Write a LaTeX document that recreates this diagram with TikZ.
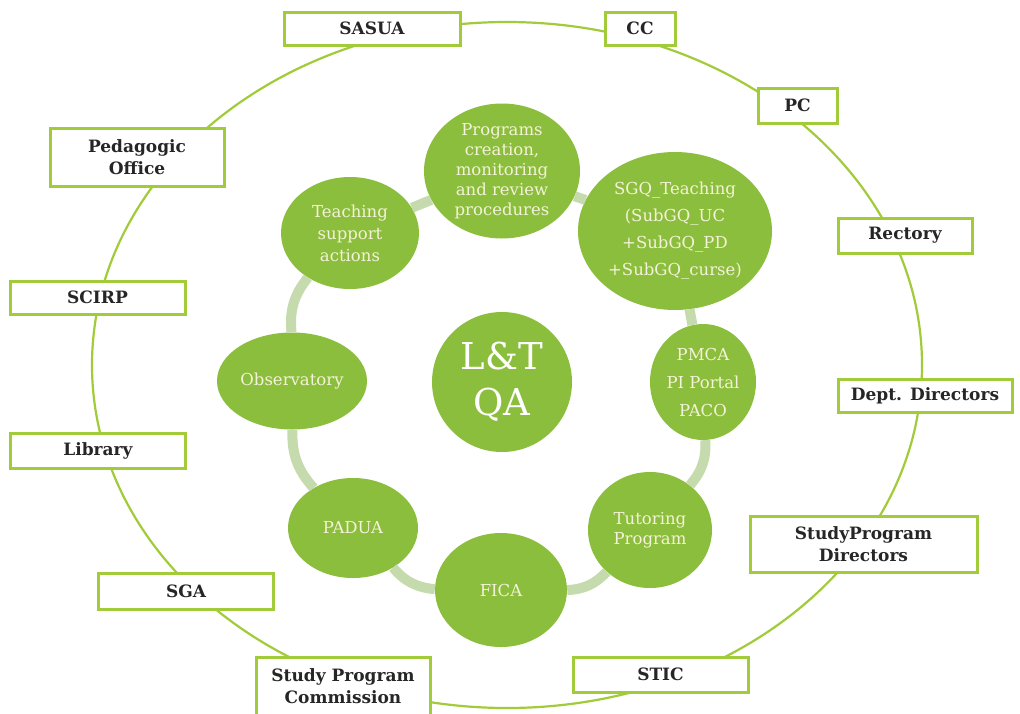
\documentclass[tikz,border=0pt]{standalone}
\usepackage{fontspec}
\setmainfont{DejaVu Serif}
\usetikzlibrary{shapes.geometric}
\definecolor{gfill}{HTML}{8CBE3D}
\definecolor{gline}{HTML}{A2CB3A}
\definecolor{ringc}{HTML}{C6DBAD}
\definecolor{gtext}{HTML}{F4F2D8}
\tikzset{
  box/.style={draw=gline, line width=3pt, fill=white, minimum width=175pt,
    minimum height=34pt, inner sep=0pt, align=center,
    font=\fontsize{17}{22}\selectfont\bfseries, text=black!85},
  bubble/.style={ellipse, fill=gfill, inner sep=0pt, align=center,
    text=gtext, font=\fontsize{16.5}{20}\selectfont},
  ringline/.style={draw=ringc, line width=10pt},
  outerring/.style={draw=gline, line width=2.2pt},
}
\begin{document}
\begin{tikzpicture}[x=1pt,y=-1pt]
\useasboundingbox (0,0) rectangle (1020,713);
\fill[white] (0,0) rectangle (1020,713);
% outer ring
\draw[outerring] (507,365) ellipse [x radius=415pt, y radius=343pt];
% boxes
\node[box, minimum width=176pt, minimum height=33pt] (sasua) at (372,28.5) {SASUA};
\node[box, minimum width=70pt, minimum height=33pt] (cc) at (640,28.5) {CC};
\node[box, minimum width=79pt, minimum height=35pt] (pc) at (797.5,105.5) {PC};
\node[box, minimum width=174pt, minimum height=58pt] (ped) at (137,157) {Pedagogic\\Office};
\node[box, minimum width=134pt, minimum height=35pt] (rect) at (905,235.5) {Rectory};
\node[box, minimum height=33pt] (scirp) at (97.5,297.5) {SCIRP};
\node[box, minimum width=174pt, minimum height=33pt] (dept) at (925,395.5) {Dept. Directors};
\node[box, minimum height=35pt] (lib) at (98,450.5) {Library};
\node[box, minimum width=227pt, minimum height=56pt] (spd) at (863.5,544) {StudyProgram\\Directors};
\node[box, minimum height=36pt] (sga) at (186,591) {SGA};
\node[box, minimum width=174pt, minimum height=59pt] (spc) at (343,686.5) {Study Program\\Commission};
\node[box, minimum height=35pt] (stic) at (660.5,674.5) {STIC};
% bubbles
\node[bubble, minimum width=156pt, minimum height=132pt] (prog) at (502,171)
  {Programs\\creation,\\monitoring\\and review\\procedures};
\node[bubble, minimum width=194pt, minimum height=158pt, font=\fontsize{16.5}{27}\selectfont] (sgq) at (675,231)
  {SGQ\_Teaching\\(SubGQ\_UC\\+SubGQ\_PD\\+SubGQ\_curse)};
\node[bubble, minimum width=138pt, minimum height=112pt, font=\fontsize{16.5}{22}\selectfont] (teach) at (350,233)
  {Teaching\\support\\actions};
\node[bubble, minimum width=150pt, minimum height=97pt] (obs) at (292,381) {Observatory};
\node[bubble, minimum width=140pt, minimum height=140pt, font=\fontsize{37}{46}\selectfont, text=white] (lt) at (502,382)
  {L\&T\\QA};
\node[bubble, minimum width=106pt, minimum height=116pt, font=\fontsize{16.5}{28}\selectfont] (pmca) at (703,382)
  {PMCA\\PI Portal\\PACO};
\node[bubble, minimum width=124pt, minimum height=116pt] (tut) at (650,530) {Tutoring\\Program};
\node[bubble, minimum width=132pt, minimum height=114pt] (fica) at (501,590) {FICA};
\node[bubble, minimum width=130pt, minimum height=100pt] (padua) at (353,528) {PADUA};
% ring connectors
\draw[ringline] (prog) -- (sgq);
\draw[ringline] (sgq) -- (pmca);
\draw[ringline] (pmca) to[bend left=22] (tut);
\draw[ringline] (tut) to[bend left=22] (fica);
\draw[ringline] (fica) to[bend left=22] (padua);
\draw[ringline] (padua) to[bend left=22] (obs);
\draw[ringline] (obs) to[bend left=22] (teach);
\draw[ringline] (teach) -- (prog);
\end{tikzpicture}
\end{document}
